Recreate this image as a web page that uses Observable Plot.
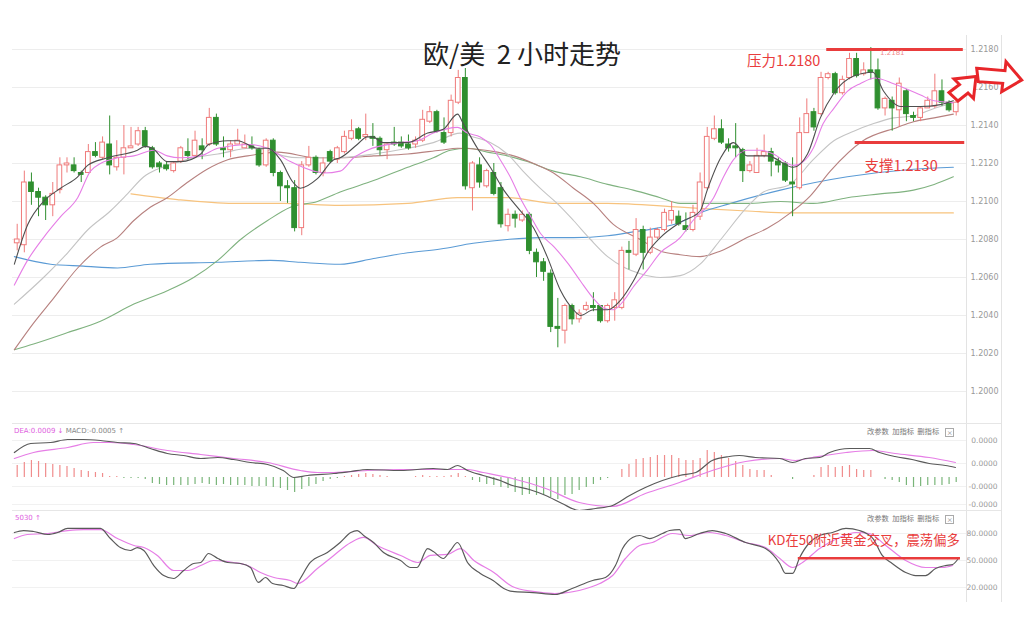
<!DOCTYPE html>
<html><head><meta charset="utf-8">
<script src="https://cdn.jsdelivr.net/npm/d3@7"></script>
<script src="https://cdn.jsdelivr.net/npm/@observablehq/plot@0.6"></script>
<style>
body{margin:0;background:#fff;}
#wrap{position:relative;width:1024px;height:642px;overflow:hidden;font-family:"DejaVu Sans","Noto Sans CJK SC",sans-serif;}
.abs{position:absolute;white-space:pre;line-height:1;}
.abs svg{display:block;}
.tools{font-family:"Noto Sans CJK SC",sans-serif;font-size:7.3px;color:#777;}
.xbox{display:inline-block;border:1px solid #aaa;width:7px;height:7px;line-height:7px;text-align:center;font-size:6px;margin-left:6px;vertical-align:middle;}
.vline{position:absolute;width:1px;background:#e3e3e3;}
.hline{position:absolute;height:1px;background:#e6e6e6;}
</style></head><body>
<div id="wrap">
  <div class="abs" id="main" style="left:0;top:0"></div>
  <div class="abs" id="macd" style="left:0;top:415px"></div>
  <div class="abs" id="kd" style="left:0;top:510px"></div>
  <div class="vline" style="left:966px;top:35px;height:567px"></div>
  <div class="vline" style="left:1001px;top:35px;height:567px"></div>
  <div class="hline" style="left:12px;top:423px;width:989px"></div>
  <div class="hline" style="left:12px;top:510px;width:989px"></div>
  <div class="abs" id="title" style="left:423px;top:40px;font-family:'Noto Sans CJK SC',sans-serif;font-size:26px;color:#222"></div>
  <div class="abs" style="left:14px;top:428px;font-size:7px;color:#e060e0" id="macdLegend"></div>
  <div class="abs tools" style="left:867px;top:428px" id="tools1"></div>
  <div class="abs" style="left:15px;top:515px;font-size:7px;color:#e060e0" id="kdLegend"></div>
  <div class="abs tools" style="left:867px;top:515px" id="tools2"></div>
  <svg class="abs" style="left:0;top:0;pointer-events:none" width="1024" height="642">
    <polygon points="949,92.5 959.5,84.5 954,79 976,76.5 973.5,98.5 968,93 958,101" fill="#fff" stroke="#e8262a" stroke-width="3" stroke-linejoin="miter"/>
    <polygon points="976.7,68.3 1005,70.7 1006,61.7 1021.7,80 1001.7,91.7 1002.7,83.3 978.3,81.7" fill="#fff" stroke="#e8262a" stroke-width="3" stroke-linejoin="miter"/>
  </svg>
</div>
<script>
// ---------- text ----------
const titleText = "欧/美  2 小时走势";
const macdLegendText = ["DEA:0.0009 ↓ ", "MACD:-0.0005 ↑"];
const kdLegendText = "5030 ↑";
const toolLabels = ["改参数", "加指标", "删指标"];

// ---------- price axis ----------
const priceTicks = [1.2000, 1.2020, 1.2040, 1.2060, 1.2080, 1.2100, 1.2120, 1.2140, 1.2160, 1.2180];

// ---------- candles (index 1..133) ----------
const candleOpen = [
1.2078,1.2077,1.2110,1.2105,1.2102,1.2098,1.2106,1.2119,1.2119,1.2115,
1.2115,1.2126,1.2123,1.2130,1.2118,1.2123,1.2128,1.2130,1.2137,1.2128,
1.2120,1.2119,1.2116,1.2121,1.2126,1.2124,1.2129,1.2130,1.2144,1.2128,
1.2127,1.2130,1.2128,1.2129,1.2127,1.2119,1.2132,1.2115,1.2108,1.2107,
1.2086,1.2119,1.2123,1.2115,1.2126,1.2122,1.2126,1.2133,1.2138,1.2134,
1.2134,1.2133,1.2127,1.2131,1.2131,1.2130,1.2130,1.2132,1.2142,1.2147,
1.2136,1.2136,1.2152,1.2165,1.2107,1.2119,1.2108,1.2115,1.2107,1.2087,
1.2093,1.2090,1.2093,1.2073,1.2068,1.2062,1.2034,1.2032,1.2045,1.2038,
1.2043,1.2045,1.2045,1.2037,1.2044,1.2044,1.2074,1.2072,1.2085,1.2073,
1.2081,1.2085,1.2090,1.2092,1.2087,1.2085,1.2092,1.2107,1.2133,1.2138,
1.2130,1.2129,1.2127,1.2116,1.2115,1.2124,1.2126,1.2121,1.2120,1.2110,
1.2107,1.2136,1.2147,1.2146,1.2165,1.2167,1.2157,1.2165,1.2175,1.2167,
1.2169,1.2169,1.2149,1.2153,1.2148,1.2158,1.2145,1.2144,1.2149,1.2150,
1.2158,1.2152,1.2147];
const candleHigh = [
1.2088,1.2116,1.2115,1.2107,1.2103,1.2110,1.2123,1.2123,1.2123,1.2116,
1.2130,1.2131,1.2134,1.2145,1.2132,1.2140,1.2139,1.2139,1.2139,1.2129,
1.2121,1.2121,1.2121,1.2129,1.2133,1.2137,1.2133,1.2149,1.2146,1.2134,
1.2132,1.2138,1.2135,1.2134,1.2128,1.2133,1.2133,1.2116,1.2111,1.2111,
1.2121,1.2129,1.2124,1.2123,1.2127,1.2129,1.2137,1.2143,1.2139,1.2146,
1.2141,1.2134,1.2131,1.2139,1.2134,1.2135,1.2134,1.2148,1.2150,1.2148,
1.2144,1.2156,1.2169,1.2170,1.2121,1.2123,1.2117,1.2120,1.2110,1.2096,
1.2095,1.2095,1.2094,1.2075,1.2070,1.2064,1.2049,1.2046,1.2046,1.2043,
1.2047,1.2052,1.2045,1.2046,1.2052,1.2076,1.2079,1.2091,1.2087,1.2086,
1.2086,1.2096,1.2100,1.2095,1.2094,1.2098,1.2115,1.2139,1.2145,1.2143,
1.2133,1.2141,1.2128,1.2121,1.2128,1.2135,1.2128,1.2123,1.2121,1.2123,
1.2144,1.2154,1.2149,1.2168,1.2168,1.2168,1.2166,1.2178,1.2178,1.2173,
1.2181,1.2175,1.2155,1.2155,1.2165,1.2159,1.2147,1.2150,1.2155,1.2167,
1.2164,1.2153,1.2153];
const candleLow = [
1.2074,1.2073,1.2098,1.2092,1.2090,1.2092,1.2104,1.2115,1.2115,1.2110,
1.2115,1.2123,1.2122,1.2114,1.2116,1.2114,1.2128,1.2129,1.2128,1.2117,
1.2115,1.2116,1.2115,1.2120,1.2122,1.2123,1.2122,1.2129,1.2129,1.2123,
1.2123,1.2130,1.2128,1.2127,1.2118,1.2118,1.2113,1.2100,1.2099,1.2084,
1.2082,1.2118,1.2114,1.2113,1.2120,1.2120,1.2125,1.2132,1.2132,1.2132,
1.2129,1.2124,1.2122,1.2129,1.2128,1.2127,1.2128,1.2131,1.2141,1.2136,
1.2130,1.2134,1.2151,1.2106,1.2095,1.2107,1.2107,1.2103,1.2086,1.2084,
1.2086,1.2089,1.2072,1.2060,1.2058,1.2031,1.2023,1.2025,1.2035,1.2036,
1.2042,1.2042,1.2036,1.2036,1.2037,1.2043,1.2064,1.2071,1.2064,1.2072,
1.2080,1.2084,1.2088,1.2087,1.2084,1.2084,1.2090,1.2106,1.2132,1.2130,
1.2126,1.2123,1.2110,1.2115,1.2115,1.2123,1.2113,1.2115,1.2110,1.2092,
1.2106,1.2136,1.2137,1.2145,1.2164,1.2156,1.2156,1.2164,1.2165,1.2166,
1.2164,1.2148,1.2145,1.2137,1.2139,1.2142,1.2142,1.2142,1.2149,1.2149,
1.2150,1.2147,1.2145];
const candleClose = [
1.2080,1.2110,1.2105,1.2102,1.2098,1.2104,1.2119,1.2120,1.2116,1.2114,
1.2126,1.2124,1.2131,1.2119,1.2123,1.2128,1.2129,1.2137,1.2129,1.2118,
1.2118,1.2117,1.2120,1.2128,1.2124,1.2132,1.2127,1.2144,1.2130,1.2127,
1.2130,1.2132,1.2130,1.2128,1.2119,1.2132,1.2115,1.2108,1.2107,1.2086,
1.2119,1.2123,1.2115,1.2120,1.2121,1.2128,1.2134,1.2137,1.2133,1.2135,
1.2133,1.2127,1.2130,1.2130,1.2129,1.2128,1.2132,1.2143,1.2147,1.2137,
1.2131,1.2153,1.2165,1.2108,1.2120,1.2110,1.2116,1.2104,1.2088,1.2093,
1.2091,1.2093,1.2074,1.2068,1.2063,1.2034,1.2033,1.2045,1.2038,1.2041,
1.2045,1.2044,1.2037,1.2045,1.2048,1.2074,1.2073,1.2085,1.2073,1.2081,
1.2085,1.2094,1.2095,1.2088,1.2085,1.2094,1.2110,1.2134,1.2138,1.2131,
1.2128,1.2128,1.2116,1.2119,1.2124,1.2126,1.2121,1.2119,1.2111,1.2109,
1.2136,1.2146,1.2139,1.2165,1.2167,1.2157,1.2164,1.2175,1.2166,1.2169,
1.2168,1.2149,1.2154,1.2149,1.2162,1.2146,1.2144,1.2149,1.2153,1.2158,
1.2152,1.2148,1.2152];

// ---------- moving averages [candle index, price] ----------
const ma5 = [[0.6,1.2067],[2.5,1.2088],[4.7,1.2100],[7.1,1.2107],[9.5,1.2113],[10.9,1.2119],[13.7,1.2123],[17.9,1.2127],[19,1.2129],[20,1.2128],[22.1,1.2121],[24,1.2121],[26.8,1.2125],[27.9,1.2130],[30.6,1.2132],[32,1.2132],[34.8,1.2128],[36.2,1.2128],[38,1.2122],[39.8,1.2110],[40.8,1.2107],[43.2,1.2112],[45.5,1.2122],[46.4,1.2123],[48.8,1.2130],[50.2,1.2134],[51,1.2134],[52.4,1.2131],[55.9,1.2131],[58.7,1.2136],[60.9,1.2138],[62.9,1.2146],[63.7,1.2141],[65.7,1.2128],[67.5,1.2118],[69.4,1.2106],[71.3,1.2097],[73.6,1.2086],[75.5,1.2071],[77.4,1.2053],[79.2,1.2043],[80.2,1.2040],[82,1.2043],[84,1.2043],[85.8,1.2048],[87.6,1.2058],[89.6,1.2073],[91.4,1.2081],[94.2,1.2089],[97,1.2095],[98,1.2106],[99.9,1.2123],[101.7,1.2131],[103.6,1.2124],[106.5,1.2124],[110.1,1.2118],[112.1,1.2125],[113.9,1.2144],[115.8,1.2157],[118.6,1.2166],[121.3,1.2168],[122.8,1.2158],[125.2,1.2150],[128,1.2150],[130.8,1.2151],[132.6,1.2153]];
const ma10 = [[0.6,1.2056],[2.45,1.2069],[4.7,1.2081],[7.1,1.2092],[9.5,1.2102],[11.3,1.2116],[12.7,1.2120],[15.1,1.2123],[17.4,1.2124],[20.2,1.2127],[22.1,1.2124],[24,1.2123],[26.8,1.2124],[29.2,1.2128],[33.8,1.2130],[36.2,1.2128],[39.4,1.2121],[42.7,1.2116],[44.1,1.2115],[46.4,1.2116],[48.3,1.2123],[50.2,1.2127],[54.9,1.2131],[57.3,1.2132],[59.5,1.2136],[62.9,1.2139],[64.3,1.2136],[66.1,1.2134],[67.5,1.2130],[68.9,1.2122],[70.3,1.2113],[71.7,1.2102],[73.2,1.2092],[74.6,1.2083],[76.5,1.2076],[78.5,1.2067],[80.2,1.2058],[82,1.2049],[83.4,1.2044],[84.8,1.2043],[86.3,1.2048],[87.6,1.2055],[89.6,1.2064],[91.4,1.2073],[94.2,1.2081],[96,1.2090],[98.9,1.2102],[100.3,1.2113],[101.7,1.2122],[103.6,1.2127],[105.5,1.2127],[107.3,1.2125],[110.1,1.2119],[111.5,1.2121],[112.9,1.2128],[114.3,1.2141],[115.8,1.2149],[117.7,1.2158],[119.5,1.2162],[121.6,1.2165],[124.2,1.2162],[126.2,1.2159],[128,1.2156],[129.9,1.2153],[132.6,1.2152]];
const ma20 = [[0.6,1.2046],[4.7,1.2060],[8.1,1.2073],[10.9,1.2085],[14.1,1.2095],[16.5,1.2104],[18.8,1.2113],[20.7,1.2117],[23,1.2120],[25.8,1.2123],[29.2,1.2125],[33.8,1.2128],[36.2,1.2127],[38.4,1.2124],[40.8,1.2123],[45.5,1.2123],[51.1,1.2125],[55.9,1.2128],[59.5,1.2131],[63.3,1.2136],[65.1,1.2134],[67.5,1.2131],[69.9,1.2125],[72.1,1.2116],[74.5,1.2107],[76.9,1.2099],[79.2,1.2090],[81.6,1.2080],[84,1.2071],[86.5,1.2065],[88.6,1.2062],[91.4,1.2060],[94.2,1.2061],[97,1.2067],[99.9,1.2080],[103.6,1.2097],[105.9,1.2105],[109.6,1.2109],[112.9,1.2122],[115.8,1.2132],[118.6,1.2137],[121.4,1.2141],[124.2,1.2144],[127,1.2145],[129.9,1.2149],[132.6,1.2152]];
const ma30 = [[0.6,1.2022],[3.3,1.2036],[6.1,1.2049],[9.5,1.2065],[12.7,1.2076],[15.1,1.2081],[17.4,1.2090],[19.7,1.2097],[22.1,1.2102],[24.9,1.2110],[27.7,1.2117],[30.6,1.2122],[33.4,1.2124],[37.6,1.2126],[43.2,1.2123],[46.4,1.2123],[51.1,1.2124],[55.9,1.2125],[60.5,1.2127],[62.9,1.2128],[68.5,1.2126],[70.8,1.2124],[73.6,1.2120],[76.4,1.2115],[79.2,1.2107],[82,1.2099],[84.8,1.2088],[88.6,1.2080],[91.4,1.2074],[94.2,1.2072],[97,1.2071],[99.9,1.2074],[103.6,1.2081],[106.5,1.2086],[109.7,1.2094],[112.5,1.2103],[115.3,1.2116],[119.9,1.2132],[124.7,1.2139],[127,1.2142],[129.9,1.2144],[132.6,1.2146]];
const ma60 = [[0.6,1.2022],[3.3,1.2025],[8.1,1.2031],[12.7,1.2037],[17.4,1.2046],[22.1,1.2053],[25.8,1.2060],[29.2,1.2069],[32.4,1.2080],[36.2,1.2090],[39.4,1.2097],[43.2,1.2100],[46.4,1.2105],[51.1,1.2111],[55.9,1.2118],[59.5,1.2123],[61.9,1.2127],[64.3,1.2128],[67.1,1.2126],[69.9,1.2124],[72.7,1.2121],[76.4,1.2116],[80.2,1.2113],[84,1.2109],[87.6,1.2106],[91.4,1.2102],[94.2,1.2099],[98.9,1.2099],[103.6,1.2099],[108.3,1.2100],[112.9,1.2099],[117.7,1.2102],[122.3,1.2104],[127,1.2106],[129.9,1.2109],[132.6,1.2113]];
const ma120 = [[0.6,1.2071],[5.7,1.2067],[10.3,1.2066],[15.1,1.2065],[19.7,1.2067],[29.2,1.2068],[36.6,1.2069],[40.8,1.2068],[46.4,1.2067],[51.1,1.2070],[55.9,1.2073],[60.5,1.2075],[65.1,1.2078],[69.9,1.2080],[74.5,1.2081],[79.2,1.2081],[84,1.2082],[87.6,1.2084],[91,1.2086],[94.2,1.2089],[97,1.2094],[101.3,1.2099],[108.3,1.2106],[117.7,1.2113],[127,1.2117],[132.6,1.2118]];
const ma250 = [[17,1.2104],[23.5,1.2101],[31.4,1.2099],[38.4,1.2099],[46.4,1.2098],[55.9,1.2099],[62.9,1.2102],[69.9,1.2102],[76.9,1.2099],[84,1.2099],[94.2,1.2097],[103.6,1.2095],[109.7,1.2094],[117.7,1.2094],[132.6,1.2094]];

// ---------- annotations ----------
const resistance = [{value: 1.2180, from: 114.8, to: 134.0, label: "压力1.2180", labelAt: 113.9, labelY: 1.21737}];
const support = [{value: 1.2131, from: 118.8, to: 134.2, label: "支撑1.2130", labelAt: 120.1, labelY: 1.21184}];
const highMark = [{at: 122.3, price: 1.21784, label: "1.2181"}];

// ---------- MACD ----------
const macdHist = [
0.00072,0.0009,0.00102,0.00096,0.00084,0.00078,0.00072,0.00066,0.00054,0.00042,
0.00036,0.0003,0.00024,0.00006,0.00006,-0.00006,-0.00006,-0.00006,-0.00012,-0.00036,
-0.00042,-0.00048,-0.00048,-0.00048,-0.00048,-0.00042,-0.00036,-0.00042,-0.00048,-0.00042,
-0.00048,-0.00048,-0.00048,-0.00054,-0.00054,-0.00054,-0.0006,-0.00066,-0.00078,-0.0009,
-0.00072,-0.00054,-0.00042,-0.00024,-0.00012,-0.00006,0.00006,0.00012,0.00018,0.00024,
0.00018,0.00012,0.00006,0,0,0,0.00006,0.00012,0.00006,0.00006,
0.00006,0.00012,0.00024,0.00006,-0.00018,-0.0003,-0.00042,-0.00048,-0.0006,-0.00066,
-0.0009,-0.00108,-0.00102,-0.00108,-0.00108,-0.0012,-0.00132,-0.00108,-0.00102,-0.00078,
-0.0006,-0.00042,-0.00018,-0.00006,0,0.00048,0.00078,0.00108,0.00114,0.0012,
0.00132,0.00132,0.00132,0.00114,0.00102,0.00102,0.00114,0.00162,0.0015,0.00132,
0.00114,0.00096,0.00072,0.00048,0.00042,0.00042,0.00012,0,0,-0.00012,
0,0,0.00012,0.0006,0.00072,0.0006,0.00066,0.00072,0.00048,0.00042,
0.00042,0,-0.00012,-0.00018,-0.0003,-0.00048,-0.0006,-0.00054,-0.00048,-0.00048,
-0.00048,-0.00042,-0.0003];
const dif = [[0.6,0.0015],[2.9,0.00204],[5.7,0.0021],[8.1,0.00228],[10.3,0.00228],[12.7,0.00222],[15.1,0.0021],[17.4,0.00204],[19.7,0.00174],[22.1,0.00144],[24.4,0.00132],[26.8,0.00114],[29.2,0.0012],[31.4,0.00108],[33.8,0.0009],[36.2,0.00078],[38.4,0.00042],[39.9,0],[41.8,0.00012],[45.5,0.00024],[47.9,0.00036],[50.2,0.00048],[54.9,0.00042],[59.5,0.00054],[61.5,0.00048],[62.9,0.00072],[64.3,0.00042],[66.5,0.00012],[68.9,-0.00018],[70.6,-0.00048],[73,-0.00072],[75.3,-0.00108],[77.6,-0.00156],[80,-0.00198],[82.3,-0.00186],[84.7,-0.00168],[87.1,-0.00108],[89.3,-0.0006],[91.7,-0.00018],[94.1,0.00012],[96.4,0.0003],[98.7,0.00102],[101.1,0.00126],[102.5,0.00132],[104.8,0.0012],[108.2,0.00114],[110,0.0009],[111.8,0.00114],[113.8,0.0012],[115.2,0.0015],[118,0.00174],[120.8,0.00174],[122.2,0.0015],[124.4,0.00126],[126.8,0.00108],[129.2,0.00084],[131.5,0.00072],[132.9,0.0006]];
const dea = [[0.6,0.00114],[3.3,0.0015],[8.1,0.0018],[11.7,0.0021],[14.1,0.0021],[17.4,0.00198],[22.1,0.00162],[26.8,0.00138],[31.4,0.00114],[36.2,0.0009],[40.8,0.00042],[43.2,0.0003],[45.5,0.0003],[50.2,0.00042],[54.9,0.00048],[64.3,0.00048],[66.5,0.0003],[70.6,-0.00006],[75.3,-0.00066],[80,-0.0015],[84.7,-0.00174],[89.3,-0.00096],[94.1,-0.0003],[98.7,0.00042],[103.4,0.00096],[108.2,0.00114],[110.4,0.00102],[112.8,0.0012],[117.5,0.0015],[121.3,0.00162],[124.4,0.00144],[129.2,0.0012],[132.9,0.0009]];
const macdTicks = [0.00222, 0.00084, -0.00054, -0.00162];
const macdTickLabels = ["0.0000", "0.0000", "-0.0000", "-0.0000"];

// ---------- KD ----------
const kdK = [[0.6,81.1],[1.9,83.3],[3.3,82.2],[5.3,78.9],[6.7,81.1],[8.1,85.6],[9.9,85.6],[11.3,85.6],[12.7,85.6],[14.1,74.4],[15.5,64.4],[16.9,61.1],[17.9,64.4],[18.8,61.1],[20.2,44.4],[21.6,33.3],[23,30],[24.4,38.9],[25.8,46.7],[26.8,47.8],[27.9,57.8],[29.2,52.2],[30.6,47.8],[32.4,46.7],[33.8,42.2],[34.9,25.6],[35.9,31.1],[36.9,24.4],[38.4,22.2],[39.9,18.9],[40.8,30],[42.2,47.8],[44.6,58.9],[46.4,70],[47.9,81.1],[48.8,83.3],[49.7,77.8],[51.1,70],[52.5,58.9],[54.9,50],[56.3,42.2],[57.2,42.2],[58.7,63.3],[59.5,60],[60.9,52.2],[61.9,61.1],[62.9,70],[64.3,47.8],[66.1,35.6],[67.9,27.8],[69.4,18.9],[70.6,15.6],[73.5,14.4],[76.6,12.2],[79,18.9],[81.9,27.8],[83.7,31.1],[85.1,44.4],[86.1,63.3],[87.5,75.6],[88.5,77.8],[89.9,74.4],[91.7,80],[92.7,83.3],[94.1,84.4],[94.9,74.4],[96.9,80],[98.7,83.3],[100.6,80],[103.4,70],[106.2,63.3],[108.2,46.7],[109,35.6],[110,35.6],[111,53.3],[112.4,70],[113.8,77.8],[115.6,81.1],[117.5,85.6],[119.4,83.3],[121.3,74.4],[122.6,55.6],[124,46.7],[125.9,36.7],[127.3,33.3],[128.7,33.3],[130.1,41.1],[131.5,44.4],[132.5,45.6],[133.3,52.2]];
const kdD = [[0.6,74.4],[2.4,78.9],[5.3,80],[8.1,83.3],[10.3,84.4],[12.7,84.4],[15.1,74.4],[17.4,66.7],[18.8,64.4],[20.7,55.6],[23,38.9],[25,38.9],[26.8,44.4],[28.6,50],[31.4,47.8],[33.4,44.4],[35.2,36.7],[37.1,31.1],[39.4,27.8],[40.4,24.4],[43.2,41.1],[45.5,55.6],[47.9,70],[49.7,75.6],[51.6,66.7],[54.9,55.6],[57.3,47.8],[59.1,55.6],[61.5,56.7],[63.3,63.3],[65.2,50],[68,36.7],[70.6,21.1],[73.5,15.6],[76.6,13.3],[80,16.7],[82.9,24.4],[84.7,33.3],[86.5,52.2],[88.5,66.7],[90.3,70],[93.1,80],[95.5,77.8],[98.3,81.1],[100.6,77.8],[103.4,70],[106.2,64.4],[108.2,52.2],[110,42.2],[111.4,47.8],[113.8,63.3],[116.6,75.6],[118.9,81.1],[120.8,80],[123.1,66.7],[125.9,50],[128.7,42.2],[131.1,42.2],[132.5,44.4]];
const kdTicks = [80, 50, 20];
const kdCross = [{value: 52.5, from: 110.8, to: 133.6, label: "KD在50附近黄金交叉，震荡偏多", labelAt: 106.5, labelY: 72.2}];

// ---------- styling constants ----------
const RED = "#ef7b7b", GREEN = "#2f8f2f", ANN = "#e93c3c";
const CJK = "Noto Sans CJK SC";
const xScale = {domain: [1, 133], range: [16.7, 955.7], axis: null};
const svgStyle = {fontFamily: "DejaVu Sans, sans-serif", fontSize: "8px", background: "transparent", overflow: "visible"};
const P = d => d[0], V = d => d[1];

const candles = candleOpen.map((o, k) => ({i: k + 1, o, h: candleHigh[k], l: candleLow[k], c: candleClose[k], up: candleClose[k] >= o}));

const mainPlot = Plot.plot({
  width: 1024, height: 415, marginLeft: 12, marginRight: 58, marginTop: 30, marginBottom: 10,
  x: xScale,
  y: {domain: [1.2000, 1.2180], range: [391, 49], axis: null},
  style: svgStyle,
  marks: [
    Plot.gridY(priceTicks, {stroke: "#ededed", strokeOpacity: 1}),
    Plot.text(priceTicks, {y: d => d, text: d => d.toFixed(4), frameAnchor: "right", dx: 32, textAnchor: "end", fill: "#999", fontSize: 8}),
    Plot.line(ma250, {x: P, y: V, stroke: "#f7c37e", strokeWidth: 1.2, curve: "monotone-x"}),
    Plot.line(ma120, {x: P, y: V, stroke: "#5b9bd5", strokeWidth: 1.1, curve: "monotone-x"}),
    Plot.line(ma60, {x: P, y: V, stroke: "#7fb27f", strokeWidth: 1.1, curve: "monotone-x"}),
    Plot.line(ma30, {x: P, y: V, stroke: "#b7817f", strokeWidth: 1.1, curve: "monotone-x"}),
    Plot.line(ma20, {x: P, y: V, stroke: "#c4c4c4", strokeWidth: 1.1, curve: "monotone-x"}),
    Plot.ruleX(candles, {x: "i", y1: "l", y2: "h", stroke: d => d.up ? RED : GREEN, strokeWidth: 1}),
    Plot.rect(candles, {x1: d => d.i - 0.33, x2: d => d.i + 0.33, y1: "o", y2: "c", fill: d => d.up ? "#fff" : GREEN, stroke: d => d.up ? RED : GREEN, strokeWidth: 1}),
    Plot.line(ma10, {x: P, y: V, stroke: "#e67ee6", strokeWidth: 1.1, curve: "monotone-x"}),
    Plot.line(ma5, {x: P, y: V, stroke: "#4f4f4f", strokeWidth: 1.1, curve: "monotone-x"}),
    Plot.ruleY(resistance, {y: "value", x1: "from", x2: "to", stroke: ANN, strokeWidth: 3}),
    Plot.ruleY(support, {y: "value", x1: "from", x2: "to", stroke: ANN, strokeWidth: 3}),
    Plot.text(resistance, {x: "labelAt", y: "labelY", text: "label", textAnchor: "end", fill: ANN, fontSize: 14.5, fontFamily: CJK}),
    Plot.text(support, {x: "labelAt", y: "labelY", text: "label", textAnchor: "start", fill: ANN, fontSize: 14.5, fontFamily: CJK}),
    Plot.text(highMark, {x: "at", y: "price", text: "label", textAnchor: "start", fill: "#f08a8a", fontSize: 7})
  ]
});
document.getElementById("main").append(mainPlot);

const histData = macdHist.map((v, k) => ({i: k + 1, v}));
const macdLabelOf = new Map(macdTicks.map((t, k) => [t, macdTickLabels[k]]));
const macdPlot = Plot.plot({
  width: 1024, height: 95, marginLeft: 12, marginRight: 58, marginTop: 8, marginBottom: 0,
  x: xScale,
  y: {domain: [-0.002, 0.0025], range: [95.33, 20.33], axis: null},
  style: svgStyle,
  marks: [
    Plot.gridY(macdTicks, {stroke: "#f1f1f1", strokeOpacity: 1}),
    Plot.text(macdTicks, {y: d => d, text: d => macdLabelOf.get(d), frameAnchor: "right", dx: 31, textAnchor: "end", fill: "#999", fontSize: 7.5}),
    Plot.ruleX(histData, {x: "i", y1: 0, y2: "v", stroke: d => d.v >= 0 ? "#f08c8c" : "#79b579", strokeWidth: 1.2}),
    Plot.line(dea, {x: P, y: V, stroke: "#e67ee6", strokeWidth: 1.2, curve: "monotone-x"}),
    Plot.line(dif, {x: P, y: V, stroke: "#5a5a5a", strokeWidth: 1.2, curve: "monotone-x"})
  ]
});
document.getElementById("macd").append(macdPlot);

const kdPlot = Plot.plot({
  width: 1024, height: 95, marginLeft: 12, marginRight: 58, marginTop: 5, marginBottom: 0,
  x: xScale,
  y: {domain: [0, 100], range: [95, 5], axis: null},
  style: svgStyle,
  marks: [
    Plot.gridY(kdTicks, {stroke: "#f1f1f1", strokeOpacity: 1}),
    Plot.text(kdTicks, {y: d => d, text: d => d.toFixed(4), frameAnchor: "right", dx: 31, textAnchor: "end", fill: "#999", fontSize: 7.5}),
    Plot.line(kdD, {x: P, y: V, stroke: "#e67ee6", strokeWidth: 1.2, curve: "monotone-x"}),
    Plot.line(kdK, {x: P, y: V, stroke: "#5a5a5a", strokeWidth: 1.2, curve: "monotone-x"}),
    Plot.ruleY(kdCross, {y: "value", x1: "from", x2: "to", stroke: ANN, strokeWidth: 2.6}),
    Plot.text(kdCross, {x: "labelAt", y: "labelY", text: "label", textAnchor: "start", fill: ANN, fontSize: 13.3, fontFamily: CJK})
  ]
});
document.getElementById("kd").append(kdPlot);

// HTML texts
document.getElementById("title").textContent = titleText;
const ml = document.getElementById("macdLegend");
ml.append(document.createTextNode(macdLegendText[0]));
const sp = document.createElement("span"); sp.style.color = "#888"; sp.textContent = macdLegendText[1]; ml.append(sp);
document.getElementById("kdLegend").textContent = kdLegendText;
for (const id of ["tools1", "tools2"]) {
  const el = document.getElementById(id);
  el.append(document.createTextNode(toolLabels.join("  ")));
  const b = document.createElement("span"); b.className = "xbox"; b.textContent = "×"; el.append(b);
}
</script>
</body></html>
